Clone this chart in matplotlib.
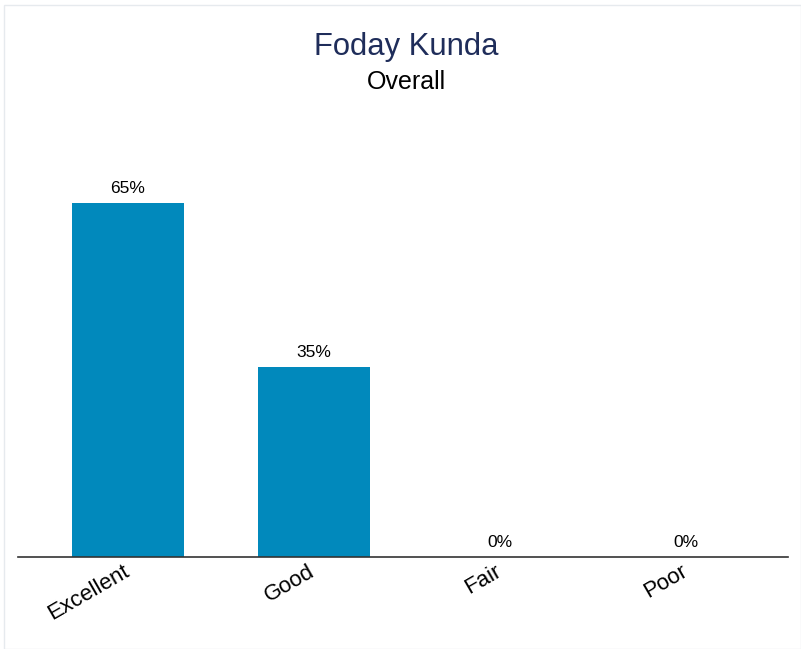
import matplotlib.pyplot as plt
import matplotlib.transforms as mtransforms
from matplotlib.patches import Rectangle

categories = ['Excellent', 'Good', 'Fair', 'Poor']
values = [65, 35, 0, 0]
title = 'Foday Kunda'
subtitle = 'Overall'

plt.rcParams['font.family'] = ['Liberation Sans', 'DejaVu Sans']

fig = plt.figure(figsize=(8.01, 6.49), dpi=100)
W, H = 801, 649
ax = fig.add_axes([18 / W, 1 - 557 / H, (788 - 18) / W, (557 - 120) / H])

x = range(len(categories))
bars = ax.bar(x, values, width=0.6, color='#0189BC')
for xi, v in zip(x, values):
    ax.annotate(f'{v}%', (xi, v), xytext=(0, 5), textcoords='offset points',
                ha='center', va='bottom', fontsize=12.5)

ax.set_xlim(-0.59, 3.55)
ax.set_ylim(0, 437 / 5.44)
ax.set_xticks(list(x))
ax.set_xticklabels(categories, rotation=30, ha='right', fontsize=16)
ax.tick_params(axis='x', length=0, pad=3)
# nudge the tick labels a little to the right
shift = mtransforms.ScaledTranslation(5 / 100, 0, fig.dpi_scale_trans)
for lbl in ax.get_xticklabels():
    lbl.set_transform(lbl.get_transform() + shift)
ax.set_yticks([])
for s in ['top', 'right', 'left']:
    ax.spines[s].set_visible(False)
ax.spines['bottom'].set_color('#333333')
ax.spines['bottom'].set_linewidth(1.2)

fig.text(406 / W, 1 - 47 / H, title, ha='center', va='center', fontsize=22.3,
         color='#1F2D5A')
fig.text(406 / W, 1 - 82 / H, subtitle, ha='center', va='center', fontsize=18,
         color='black')

fig.patches.append(Rectangle((4 / W, 0), 1 - 4 / W, 1 - 5 / H,
                             transform=fig.transFigure, fill=False,
                             edgecolor='#E6EAEE', linewidth=1))

fig.savefig('out.png', dpi=100)
